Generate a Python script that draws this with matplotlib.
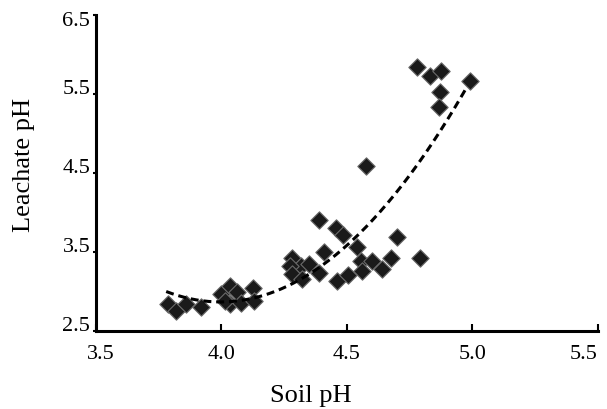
import numpy as np
import matplotlib
matplotlib.use("Agg")
import matplotlib.pyplot as plt
import matplotlib.transforms as mtrans

soil_ph = [3.787, 3.82, 3.86, 3.92, 4.00, 4.035, 4.064, 4.035, 4.08, 4.014, 4.126, 4.13,
           4.281, 4.317, 4.348, 4.274, 4.281, 4.32, 4.39, 4.407, 4.387, 4.457, 4.483,
           4.46, 4.505, 4.54, 4.557, 4.56, 4.60, 4.64, 4.674, 4.70, 4.793, 4.578,
           4.78, 4.83, 4.873, 4.87, 4.867, 4.99]
leachate_ph = [2.84, 2.76, 2.84, 2.80, 2.97, 3.07, 2.99, 2.84, 2.86, 2.88, 3.05, 2.88,
               3.43, 3.33, 3.35, 3.33, 3.22, 3.16, 3.24, 3.50, 3.905, 3.81, 3.72,
               3.14, 3.21, 3.56, 3.39, 3.26, 3.39, 3.28, 3.42, 3.69, 3.43, 4.595,
               5.84, 5.73, 5.79, 5.52, 5.33, 5.67]

# quadratic trendline coefficients (a*x^2 + b*x + c)
trend_coef = [2.822, -22.555, 47.937]
trend_range = [3.78, 4.98]

x_ticks = [3.5, 4.0, 4.5, 5.0, 5.5]
y_ticks = [2.5, 3.5, 4.5, 5.5, 6.5]

plt.rcParams['font.family'] = ['Liberation Serif', 'DejaVu Serif']

fig = plt.figure(figsize=(6.07, 4.10), dpi=100)
ax = fig.add_axes([0.158, 0.190, 0.827, 0.771])

ax.scatter(soil_ph, leachate_ph, marker='D', s=78, facecolor='#1a1a1a',
           edgecolor='#6a6a6a', linewidth=0.8, zorder=3, clip_on=False)

xs = np.linspace(trend_range[0], trend_range[1], 200)
ax.plot(xs, np.polyval(trend_coef, xs), color='black', linewidth=2.2,
        dashes=(2.6, 1.6), zorder=4)

ax.set_xlim(3.5, 5.5)
ax.set_ylim(2.5, 6.5)
ax.set_xticks(x_ticks)
ax.set_xticklabels([f"{v:.1f}" for v in x_ticks])
ax.set_yticks(y_ticks)
ax.set_yticklabels([f"{v:.1f}" for v in y_ticks])

for s in ['top', 'right']:
    ax.spines[s].set_visible(False)
for s in ['left', 'bottom']:
    ax.spines[s].set_linewidth(2.2)

ax.tick_params(axis='x', direction='in', length=5, width=1.5, labelsize=16, pad=9)
ax.tick_params(axis='y', direction='out', length=2, width=1.5, labelsize=16, pad=2)

# x tick label adjustments to stay inside figure
xl = ax.get_xticklabels()
xl[0].set_transform(xl[0].get_transform() + mtrans.ScaledTranslation(5/100, 0, fig.dpi_scale_trans))
xl[-1].set_horizontalalignment('right')
# y tick labels sit on top of their ticks
yl = ax.get_yticklabels()
for i, t in enumerate(yl):
    if i == len(yl) - 1:
        t.set_verticalalignment('center_baseline')
        t.set_transform(t.get_transform() + mtrans.ScaledTranslation(0, -3/100, fig.dpi_scale_trans))
    else:
        t.set_verticalalignment('baseline')
        t.set_transform(t.get_transform() + mtrans.ScaledTranslation(0, 1/100, fig.dpi_scale_trans))

ax.set_xlabel('Soil pH', fontsize=19)
ax.xaxis.set_label_coords(0.428, -0.168)
ax.xaxis.label.set_verticalalignment('top')
ax.set_ylabel('Leachate pH', fontsize=19)
ax.yaxis.set_label_coords(-0.1215, 0.528)

fig.savefig('out.png', dpi=100)
